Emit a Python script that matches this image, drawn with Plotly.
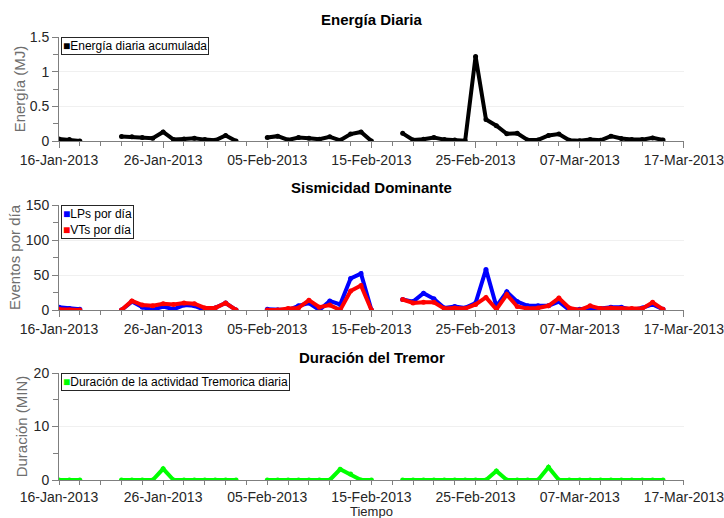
import pandas as pd
import plotly.graph_objects as go
from plotly.subplots import make_subplots

# ---- data (one value per day from 16-Jan-2013; None = no data) ----
start_date = "2013-01-16"
n_days = 59
dates = pd.date_range(start_date, periods=n_days, freq="D")

energia = [0.03, 0.02, 0.0, None, None, None,
           0.065, 0.06, 0.05, 0.04, 0.13, 0.02, 0.03, 0.04, 0.02, 0.01, 0.08, 0.0,
           None, None,
           0.05, 0.07, 0.015, 0.05, 0.04, 0.025, 0.06, 0.01, 0.1, 0.13, 0.0,
           None, None,
           0.11, 0.015, 0.025, 0.05, 0.02, 0.015, 0.005, 1.22, 0.31, 0.22, 0.105, 0.11,
           0.015, 0.015, 0.08, 0.1, 0.01, 0.005, 0.02, 0.01, 0.07, 0.035, 0.02, 0.02,
           0.045, 0.015]

lps = [4, 2, 1, None, None, None,
       0, 12, 4, 0, 5, 1, 7, 6, 0, 3, 10, 0,
       None, None,
       1, 0, 0, 6, 10, 0, 13, 8, 45, 52, 0,
       None, None,
       15, 12, 24, 16, 3, 5, 3, 10, 58, 5, 26, 12, 6, 6, 6, 12, 0, 1, 3, 2, 4, 4,
       0, 3, 8, 1]

vts = [1, 0, 0, None, None, None,
       0, 13, 7, 6, 9, 8, 10, 9, 3, 3, 10, 0,
       None, None,
       0, 0, 2, 3, 14, 4, 7, 0, 27, 35, 0,
       None, None,
       15, 10, 11, 11, 2, 3, 2, 8, 18, 1, 22, 5, 2, 3, 6, 17, 3, 0, 6, 2, 3, 2,
       2, 2, 11, 1]

tremor = [0, 0, 0, None, None, None,
          0, 0, 0, 0, 2.1, 0, 0, 0, 0, 0, 0, 0,
          None, None,
          0, 0, 0, 0, 0, 0, 0, 2.0, 1.1, 0, 0,
          None, None,
          0, 0, 0, 0, 0, 0, 0, 0, 0, 1.7, 0, 0, 0, 0, 2.4, 0, 0, 0, 0, 0, 0, 0,
          0, 0, 0, 0]

x_tick_labels = ["16-Jan-2013", "26-Jan-2013", "05-Feb-2013", "15-Feb-2013",
                 "25-Feb-2013", "07-Mar-2013", "17-Mar-2013"]
x_tick_vals = ["2013-01-16", "2013-01-26", "2013-02-05", "2013-02-15",
               "2013-02-25", "2013-03-07", "2013-03-17"]

titles = ["Energía Diaria", "Sismicidad Dominante", "Duración del Tremor"]
legend_names = [["Energía diaria acumulada"], ["LPs por día", "VTs por día"],
                ["Duración de la actividad Tremorica diaria"]]
legend_colors = [["black"], ["#0000ff", "#ff0000"], ["#00ff00"]]
x_title = "Tiempo"

FONT = "Liberation Sans, Arial, sans-serif"
W, H = 724, 518
L, R = 59, 684

def py(pix):
    return 1 - pix / H

fig = make_subplots(rows=3, cols=1)

series = [(energia, "black", 1), (lps, "#0000ff", 2), (vts, "#ff0000", 2), (tremor, "#00ff00", 3)]
for s, color, row in series:
    fig.add_trace(go.Scatter(x=dates, y=s, mode="lines+markers",
                             line=dict(color=color, width=4),
                             marker=dict(color=color, size=5),
                             connectgaps=False, showlegend=False, hoverinfo="skip"),
                  row=row, col=1)

domains = [(py(141), py(37)), (py(310), py(205)), (py(480), py(373))]
yranges = [(0, 1.5), (0, 150), (0, 20)]
ydt = [0.5, 50, 10]
ytitles = ["Energía (MJ)", "Eventos por día", "Duración (MIN)"]
ystandoff = [0, 1, 2]
xticklen = [6, 6, 4]

axis_col = "#7f7f7f"
text_col = "#262626"

for i in range(3):
    xa = "xaxis" if i == 0 else f"xaxis{i+1}"
    ya = "yaxis" if i == 0 else f"yaxis{i+1}"
    fig.layout[xa].update(
        range=["2013-01-16", "2013-03-17 00:20"], tickvals=x_tick_vals, ticktext=x_tick_labels,
        showgrid=False, zeroline=False, showline=True, linecolor=axis_col, linewidth=1,
        ticks="outside", ticklen=xticklen[i], tickcolor=axis_col, automargin=False,
        ticklabeloverflow="allow",
        tickfont=dict(family=FONT, size=14, color=text_col),
        minor=dict(dtick=2 * 86400000, tick0="2013-01-16", ticks="outside",
                   ticklen=4, tickcolor=axis_col),
        domain=[0, 1])
    fig.layout[ya].update(
        range=list(yranges[i]), dtick=ydt[i], tick0=0, domain=list(domains[i]),
        showgrid=True, gridcolor="#f0f0f0", zeroline=False, automargin=False,
        showline=True, linecolor=axis_col, linewidth=1,
        ticks="outside", ticklen=6, tickcolor=axis_col,
        tickfont=dict(family=FONT, size=14, color=text_col),
        minor=dict(dtick=ydt[i] / 2, ticks="outside", ticklen=5, tickcolor=axis_col),
        title=dict(text=ytitles[i], font=dict(family=FONT, size=15, color="#6e6e6e"),
                   standoff=ystandoff[i]))

# x-axis title of the bottom panel
fig.add_annotation(text=x_title, x=0.5, xref="paper", y=py(519.5), yref="paper",
                   showarrow=False, xanchor="center", yanchor="bottom", borderpad=0,
                   font=dict(family=FONT, size=13, color=text_col))

title_y = [19, 188, 357]
for t, yp in zip(titles, title_y):
    fig.add_annotation(text=f"<b>{t}</b>", x=0.5, xref="paper", y=py(yp), yref="paper",
                       showarrow=False, xanchor="center", yanchor="middle",
                       font=dict(family=FONT, size=15, color="black"))

# legend boxes (top-left inside each panel)
for i in range(3):
    lines = [f"<span style='color:{c}'>■</span>{n}"
             for n, c in zip(legend_names[i], legend_colors[i])]
    fig.add_annotation(text="<br>".join(lines), x=0.003, xref="paper",
                       y=domains[i][1], yref="paper", xanchor="left", yanchor="top",
                       showarrow=False, align="left", bgcolor="white",
                       bordercolor="#262626", borderwidth=1, borderpad=1,
                       font=dict(family=FONT, size=12, color="black"))

fig.update_layout(
    width=W, height=H, plot_bgcolor="white", paper_bgcolor="white",
    margin=dict(l=L, r=W - R, t=0, b=0, autoexpand=False),
    showlegend=False,
    font=dict(family=FONT),
)

fig.write_html("out.html", config={"displayModeBar": False},
               post_script="document.body.style.margin='0px';")
